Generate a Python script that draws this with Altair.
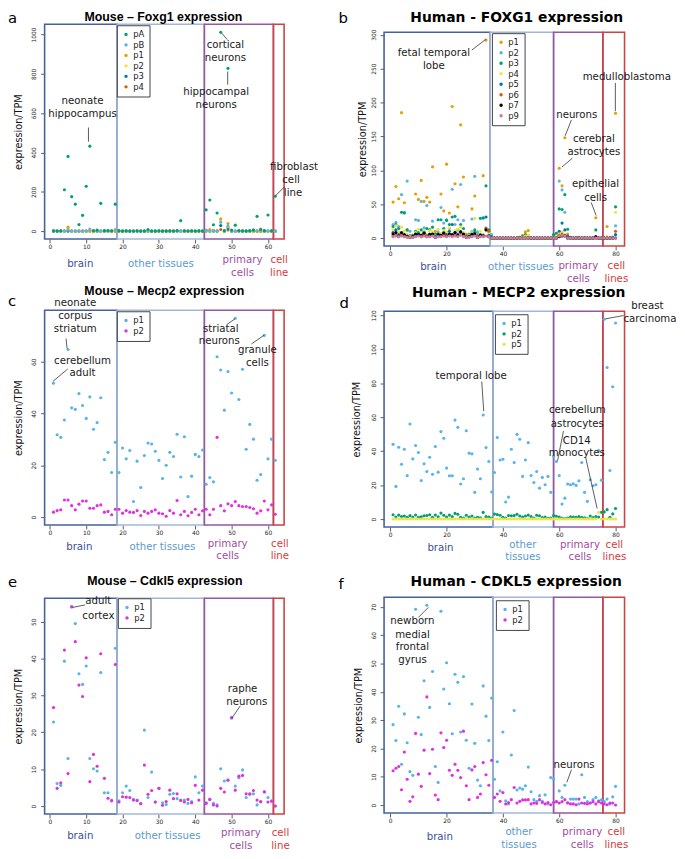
import altair as alt
import pandas as pd

# ------------------------------------------------------------------ data
mouse_idx = list(range(1, 63))
human_idx = list(range(1, 81))

# a  Mouse - Foxg1
foxg1_m_pA = [1, 0, 1, 210, 380, 175, 137, 33, 80, 228,
              432, 2, 5, 141, 2, 3, 1, 137, 2, 0,
              1, 0, 0, 1, 0, 0, 8, 0, 0, 1,
              0, 0, 1, 0, 3, 53, 1, 0, 1, 0,
              1, 0, 108, 158, 32, 92, 1012, 2, 828, 5,
              30, 3, 1, 0, 2, 5, 75, 8, 2, 82,
              1, 177]
foxg1_m_pB = [0, 0, 0, 0, 5, 0, 0, 0, 0, 0,
              10, 0, 0, 0, 0, 0, 0, 8, 0, 0,
              0, 0, 0, 0, 0, 0, 0, 0, 0, 0,
              0, 0, 0, 0, 0, 0, 0, 0, 0, 0,
              0, 0, 5, 0, 0, 0, 45, 0, 25, 0,
              0, 0, 0, 0, 0, 6, 0, 10, 0, 0,
              0, 0]
foxg1_m_p1 = [0, 0, 0, 0, 20, 0, 0, 0, 0, 0,
              3, 0, 0, 0, 0, 0, 0, 0, 0, 0,
              0, 0, 0, 0, 0, 0, 0, 0, 0, 0,
              0, 0, 0, 0, 0, 0, 0, 0, 0, 0,
              0, 0, 3, 8, 0, 0, 62, 0, 38, 0,
              0, 0, 0, 0, 0, 0, 0, 0, 0, 0,
              0, 0]
foxg1_m_p2 = [0, 0, 0, 0, 12, 0, 0, 0, 0, 0,
              0, 0, 0, 0, 0, 0, 0, 0, 0, 0,
              0, 0, 0, 0, 0, 0, 0, 0, 0, 0,
              0, 0, 0, 0, 0, 0, 0, 0, 0, 0,
              0, 0, 0, 0, 0, 0, 52, 0, 22, 0,
              0, 0, 0, 0, 0, 0, 0, 0, 0, 0,
              0, 0]
foxg1_m_p3 = [0, 0, 0, 0, 0, 0, 0, 0, 0, 0,
              0, 0, 0, 0, 0, 0, 0, 0, 0, 0,
              0, 0, 0, 0, 0, 0, 0, 0, 0, 0,
              0, 0, 0, 0, 0, 0, 0, 0, 0, 0,
              0, 0, 0, 0, 2, 0, 28, 0, 15, 0,
              0, 0, 0, 0, 0, 0, 0, 0, 0, 0,
              0, 0]
foxg1_m_p4 = [0, 0, 0, 0, 2, 0, 0, 0, 0, 0,
              0, 0, 0, 0, 0, 0, 0, 0, 0, 0,
              0, 0, 0, 0, 0, 0, 0, 0, 0, 0,
              0, 0, 0, 0, 0, 0, 0, 0, 0, 0,
              0, 0, 0, 0, 0, 0, 8, 0, 6, 0,
              0, 0, 0, 0, 0, 0, 0, 0, 0, 0,
              0, 0]

# b  Human - FOXG1
foxg1_h_p1 = [53, 76, 58, 185, 52, 12, 4, 3, 65, 57,
              85, 54, 60, 53, 105, 10, 4, 65, 40, 109,
              37, 194, 80, 46, 167, 90, 6, 5, 43, 62,
              6, 4, 92, 292, 11, 0, 0, 0, 0, 0,
              0, 0, 0, 0, 0, 1, 4, 9, 11, 0,
              0, 0, 0, 0, 0, 0, 0, 2, 4, 103,
              77, 148, 6, 1, 0, 0, 1, 0, 0, 0,
              0, 1, 30, 0, 0, 0, 17, 0, 1, 184]
foxg1_h_p2 = [20, 23, 17, 64, 38, 84, 10, 4, 27, 26,
              54, 15, 48, 12, 25, 6, 9, 45, 22, 27,
              14, 72, 20, 27, 79, 26, 3, 6, 28, 91,
              9, 4, 29, 15, 3, 5, 0, 0, 0, 0,
              0, 0, 0, 0, 0, 0, 1, 2, 4, 0,
              0, 0, 0, 0, 0, 0, 0, 4, 7, 84,
              71, 38, 3, 1, 0, 1, 0, 0, 1, 0,
              0, 0, 0, 0, 0, 0, 0, 0, 1, 18]
foxg1_h_p3 = [17, 20, 14, 38, 37, 12, 3, 4, 10, 8,
              12, 10, 14, 12, 16, 6, 27, 27, 14, 26,
              20, 31, 32, 12, 20, 14, 3, 5, 9, 12,
              3, 29, 30, 77, 12, 2, 0, 0, 0, 0,
              0, 0, 0, 0, 0, 1, 2, 5, 3, 0,
              0, 0, 0, 0, 0, 0, 0, 5, 7, 43,
              42, 64, 13, 1, 0, 0, 1, 0, 0, 0,
              0, 0, 12, 0, 0, 0, 0, 0, 1, 46]
foxg1_h_p4 = [12, 18, 9, 16, 10, 6, 2, 2, 8, 13,
              6, 10, 5, 11, 9, 3, 13, 7, 11, 9,
              15, 6, 11, 13, 16, 8, 2, 4, 8, 29,
              2, 10, 6, 13, 8, 0, 0, 0, 0, 0,
              0, 0, 0, 0, 0, 0, 1, 3, 4, 0,
              0, 0, 0, 0, 0, 0, 0, 0, 3, 6,
              9, 5, 0, 0, 0, 0, 0, 0, 0, 0,
              0, 0, 0, 0, 0, 0, 2, 0, 0, 38]
foxg1_h_p5 = [8, 12, 5, 6, 4, 3, 1, 2, 5, 6,
              4, 8, 3, 6, 5, 2, 6, 4, 8, 5,
              10, 20, 8, 6, 9, 5, 2, 3, 6, 8,
              2, 5, 4, 31, 4, 0, 0, 0, 0, 0,
              0, 0, 0, 0, 0, 0, 0, 0, 0, 0,
              0, 0, 0, 0, 0, 0, 0, 0, 0, 10,
              22, 12, 3, 0, 0, 0, 0, 0, 0, 0,
              0, 0, 0, 0, 0, 0, 0, 0, 0, 5]
foxg1_h_p6 = [3, 5, 2, 4, 3, 2, 1, 1, 3, 4,
              2, 5, 2, 3, 4, 1, 3, 3, 5, 4,
              6, 4, 5, 3, 8, 4, 1, 2, 3, 4,
              1, 3, 3, 14, 10, 0, 0, 0, 0, 0,
              0, 0, 0, 0, 0, 0, 0, 0, 0, 0,
              0, 0, 0, 0, 0, 0, 0, 0, 0, 4,
              6, 4, 0, 0, 0, 0, 0, 0, 0, 0,
              0, 0, 0, 0, 0, 0, 0, 0, 0, 10]
foxg1_h_p7 = [6, 8, 3, 8, 5, 2, 1, 2, 6, 5,
              4, 7, 3, 5, 6, 1, 5, 4, 7, 3,
              6, 5, 8, 4, 9, 6, 1, 2, 5, 6,
              1, 4, 3, 12, 2, 0, 0, 0, 0, 0,
              0, 0, 0, 0, 0, 0, 0, 0, 0, 0,
              0, 0, 0, 0, 0, 0, 0, 0, 0, 2,
              3, 3, 0, 0, 0, 0, 0, 0, 0, 0,
              0, 0, 2, 0, 0, 0, 0, 0, 0, 0]
foxg1_h_p9 = [2, 3, 2, 3, 2, 1, 1, 1, 2, 3,
              2, 3, 2, 2, 3, 1, 2, 2, 3, 2,
              3, 2, 3, 2, 4, 2, 1, 1, 2, 3,
              1, 2, 2, 3, 2, 0, 0, 0, 0, 0,
              0, 0, 0, 0, 0, 0, 0, 0, 0, 0,
              0, 0, 0, 0, 0, 0, 0, 0, 0, 3,
              4, 3, 0, 0, 0, 0, 0, 0, 0, 0,
              0, 0, 0, 0, 0, 0, 0, 0, 0, 0]

# c  Mouse - Mecp2
mecp2_m_p1 = [51.7, 31.8, 30.8, 37.5, 64.7, 42.2, 41.6, 47.7, 43.1, 38.1,
              46.4, 33.9, 36.5, 46.1, 22.2, 25.0, 17.2, 28.9, 17.2, 26.7,
              22.5, 25.7, 6.0, 21.6, 11.4, 23.8, 28.6, 28.2, 25.4, 21.9,
              14.9, 20.0, 25.0, 23.4, 32.0, 15.5, 31.0, 7.9, 15.8, 24.2,
              23.4, 25.9, 12.7, 15.3, 13.6, 61.9, 56.8, 41.3, 56.2, 47.9,
              76.8, 45.4, 57.1, 26.2, 35.8, 30.1, 14.2, 16.4, 70.2, 22.5,
              30.1, 21.9]
mecp2_m_p2 = [1.9, 2.5, 2.8, 6.6, 6.6, 4.4, 2.8, 5.0, 6.2, 6.2,
              3.4, 3.4, 4.4, 4.7, 1.9, 2.2, 0.9, 3.0, 3.0, 1.5,
              2.5, 1.9, 1.8, 2.5, 0.6, 2.2, 1.5, 2.2, 2.8, 1.5,
              1.3, 0.3, 2.5, 1.5, 6.4, 0.9, 2.2, 0.5, 1.8, 3.0,
              0.9, 2.4, 3.0, 0.9, 3.0, 30.8, 4.4, 2.4, 5.1, 4.4,
              6.0, 4.4, 4.1, 4.1, 3.7, 3.2, 1.5, 2.4, 6.2, 2.8,
              4.7, 1.1]

# d  Human - MECP2
mecp2_h_p1 = [44.0, 19.2, 42.3, 32.3, 41.1, 25.6, 56.0, 35.4, 43.3, 39.2,
              22.7, 32.5, 28.0, 36.4, 26.4, 42.7, 27.6, 51.5, 47.6, 30.0,
              25.5, 25.5, 58.3, 54.0, 20.6, 23.7, 52.0, 38.8, 38.4, 15.7,
              29.4, 23.7, 61.3, 42.1, 33.9, 15.9, 27.4, 48.0, 34.8, 35.2,
              10.0, 12.9, 41.1, 33.3, 49.9, 47.0, 25.1, 34.8, 45.0, 25.6,
              21.5, 28.0, 18.2, 24.5, 20.2, 25.1, 15.7, 37.0, 33.9, 25.6,
              8.8, 12.3, 20.6, 20.2, 20.8, 19.8, 22.5, 33.3, 15.7, 10.4,
              23.1, 19.6, 20.2, 40.3, 22.9, 117.7, 89.3, 28.6, 77.9, 115.5]
mecp2_h_p2 = [2.5, 1.2, 2.3, 1.5, 1.8, 1.0, 2.0, 1.2, 2.4, 1.0,
              1.3, 1.9, 2.1, 2.5, 1.0, 2.4, 1.3, 3.5, 2.2, 1.2,
              2.3, 1.4, 3.3, 2.8, 1.0, 0.6, 2.2, 1.1, 1.8, 0.5,
              1.0, 0.7, 3.9, 1.4, 1.2, 0.6, 2.9, 2.6, 2.2, 1.0,
              0.6, 2.1, 1.9, 2.0, 2.8, 1.8, 1.2, 1.8, 2.3, 1.5,
              0.5, 2.2, 1.9, 0.8, 1.2, 0.4, 0.5, 2.0, 1.6, 1.2,
              0.5, 0.3, 0.6, 1.3, 1.2, 1.0, 1.4, 1.0, 0.7, 0.3,
              1.8, 0.8, 1.5, 1.2, 4.0, 4.2, 5.5, 1.0, 3.0, 6.2]
mecp2_h_p5 = [0, 0, 0, 0, 0, 0, 0, 0, 0, 0,
              0, 0, 0, 0, 0, 0, 0, 0, 0, 0,
              0, 0, 0, 0, 0, 0, 0, 0, 0, 0,
              0, 0, 0, 0, 0, 0, 0, 0, 0, 0,
              0, 0, 0, 0, 0, 0, 0, 0, 0, 0,
              0, 0, 0, 0, 0, 0, 0, 0, 0, 0,
              0, 0, 0, 0, 0, 0, 0, 0, 0, 0,
              0, 0, 0, 3.9, 0, 0, 0, 0, 0, 0]

# e  Mouse - Cdkl5
cdkl5_m_p1 = [22.8, 6.1, 5.6, 39.3, 12.9, 54.2, 49.5, 35.9, 33.0, 38.0,
              12.9, 10.1, 9.5, 36.2, 3.6, 3.6, 1.6, 42.8, 1.4, 3.6,
              5.4, 4.2, 1.8, 1.6, 0.7, 20.6, 2.3, 9.2, 1.1, 4.8,
              0.9, 0.4, 3.2, 3.4, 2.0, 1.6, 1.6, 0.7, 1.2, 7.9,
              3.6, 5.4, 0.9, 1.8, 0.7, 0.3, 10.1, 6.8, 7.1, 23.8,
              5.4, 7.7, 9.8, 2.3, 3.4, 3.3, 0.3, 1.1, 3.9, 2.3,
              1.4, 0.0]
cdkl5_m_p2 = [26.7, 4.8, 6.3, 42.3, 8.8, 54.0, 44.6, 32.8, 29.7, 40.2,
              6.6, 14.0, 10.8, 41.3, 7.5, 2.1, 1.4, 38.4, 1.1, 2.5,
              2.4, 2.3, 1.6, 1.5, 0.6, 11.1, 3.2, 4.2, 1.1, 4.8,
              0.2, 1.2, 4.3, 2.0, 3.3, 1.5, 1.1, 1.8, 0.9, 5.6,
              1.6, 4.3, 0.7, 1.8, 0.3, 0.0, 4.8, 3.8, 7.0, 24.0,
              4.3, 8.1, 8.3, 3.3, 3.2, 4.2, 1.6, 1.2, 3.8, 1.1,
              1.3, 0.0]

# f  Human - CDKL5
cdkl5_h_p1 = [28.4, 22.8, 34.9, 14.4, 32.2, 22.0, 11.8, 10.5, 69.2, 31.0,
              24.9, 43.9, 70.6, 34.5, 47.2, 13.6, 8.0, 68.5, 41.0, 50.3,
              35.8, 25.2, 46.2, 43.4, 25.8, 45.4, 22.9, 13.0, 35.7, 21.8,
              8.8, 6.8, 42.1, 31.4, 22.8, 37.8, 9.1, 15.3, 5.0, 25.8,
              1.5, 0.4, 17.7, 33.4, 5.3, 6.0, 5.6, 6.8, 13.4, 4.7,
              1.9, 1.3, 3.3, 1.3, 3.6, 0.4, 9.7, 9.1, 1.2, 5.0,
              2.7, 7.0, 0.9, 2.1, 2.1, 2.1, 0.4, 10.7, 2.7, 1.2,
              0.7, 1.9, 2.7, 1.5, 1.8, 1.2, 2.1, 0.4, 2.9, 6.6]
cdkl5_h_p2 = [12.1, 13.0, 13.6, 5.4, 18.7, 9.1, 1.3, 2.9, 25.3, 10.9,
              6.6, 19.4, 38.2, 11.1, 19.7, 3.5, 1.9, 25.5, 20.3, 22.9,
              12.3, 10.5, 14.4, 12.3, 9.7, 26.1, 6.8, 1.9, 12.4, 13.6,
              2.7, 3.9, 15.0, 10.7, 7.0, 15.8, 2.7, 3.9, 1.3, 4.4,
              0.4, 0.9, 1.9, 6.2, 0.7, 1.3, 1.8, 1.8, 1.9, 0.4,
              0.7, 0.6, 1.9, 0.9, 0.4, 0.9, 0.1, 0.9, 1.2, 0.7,
              1.2, 1.9, 0.7, 0.4, 0.4, 0.1, 2.1, 0.7, 0.6, 0.4,
              0.7, 1.2, 0.4, 1.2, 0.7, 0.4, 0.1, 0.7, 0.7, 0.0]

# region boundaries (sample index between groups)
mouse_edges = [18.5, 42.5, 61.5]
human_edges_b = [35.5, 58.0, 75.5]
human_edges_df = [36.5, 58.0, 75.5]
mouse_xdom = [-1.44, 64.44]
human_xdom = [-2.2, 83.2]

# ------------------------------------------------------------------ style
FONT = "DejaVu Sans"
ORANGE, SKY, GREEN, YELLOW = "#E69F00", "#56B4E9", "#009E73", "#F0E442"
BLUE, VERM, PINK, BLACK, MAGENTA = "#0072B2", "#D55E00", "#CC79A7", "#000000", "#E02FE0"
REGION_STROKES = ["#46619f", "#a3b6da", "#9457a3", "#cc4444"]
REGION_TEXT = ["#3a4f9a", "#5a9ad0", "#a24c9f", "#d83a3a"]


def build(idx, series, draw_order, xdom, edges, geom, yticks, xticks,
          title, title_font, letter, cats, notes, leaders, legend_xy, ytitle_x):
    left, gtop, off, ph, gh, width = geom
    x0, x1 = xdom
    ymax = max(max(vals) for _, vals, _ in series)
    y0, y1 = -0.04 * ymax, 1.04 * ymax

    def dx(px):
        return x0 + (px - left) / width * (x1 - x0)

    def dy(py):
        return y1 - (py - gtop - off) / ph * (y1 - y0)

    xs = alt.Scale(domain=[x0, x1], nice=False, zero=False)
    ys = alt.Scale(domain=[y0, y1], range=[off + ph, off], nice=False, zero=False)

    xaxis = alt.Axis(values=xticks, tickSize=4, tickColor="#333", tickWidth=0.8,
                     labelFont=FONT, labelFontSize=6, labelColor="#222",
                     labelPadding=1, labelFlush=False, labelOverlap=False,
                     labelAngle=0, domain=False, grid=False, title=None)
    yaxis = alt.Axis(values=yticks, format="d", tickSize=4, tickColor="#333",
                     tickWidth=0.8, labelFont=FONT, labelFontSize=6,
                     labelColor="#222", labelAngle=270, labelAlign="center",
                     labelBaseline="bottom", labelPadding=4, labelFlush=False,
                     labelOverlap=False, domain=False, grid=False,
                     title="expression/TPM", titleFont=FONT, titleFontSize=9.8,
                     titleFontWeight="normal", titleColor="#111", titleAngle=270,
                     titleX=ytitle_x - left, titleY=off + ph / 2,
                     titleAlign="center", titleBaseline="middle")

    def X(f):
        return alt.X(f, scale=xs, axis=xaxis)

    def Y(f):
        return alt.Y(f, scale=ys, axis=yaxis)

    lookup = {lab: vals for lab, vals, _ in series}
    rows = []
    for lab in draw_order:
        for i, v in zip(idx, lookup[lab]):
            rows.append({"idx": i, "val": v, "prom": lab})

    legend = alt.Legend(orient="none", legendX=legend_xy[0] - left,
                        legendY=legend_xy[1] - gtop, title=None,
                        strokeColor="#444", fillColor="white", padding=5,
                        rowPadding=1.6, labelFont=FONT, labelFontSize=8.5,
                        labelColor="#222", labelOffset=3, symbolSize=12,
                        symbolType="circle", symbolStrokeWidth=0, cornerRadius=0)
    pts = alt.Chart(pd.DataFrame(rows)).mark_circle(size=10, opacity=1).encode(
        x=X("idx:Q"), y=Y("val:Q"),
        color=alt.Color("prom:N",
                        scale=alt.Scale(domain=[s[0] for s in series],
                                        range=[s[2] for s in series]),
                        legend=legend),
    )

    reg = pd.DataFrame({"start": [x0] + edges, "end": edges + [x1],
                        "stroke": REGION_STROKES})
    regions = alt.Chart(reg).mark_rect(fillOpacity=0, strokeWidth=1.6).encode(
        x=X("start:Q"), x2="end:Q",
        y=alt.value(off), y2=alt.value(off + ph),
        stroke=alt.Stroke("stroke:N", scale=None),
    )

    ld = pd.DataFrame([{"x": dx(a), "y": dy(b), "x2": dx(c), "y2": dy(d)}
                       for a, b, c, d in leaders])
    lead = alt.Chart(ld).mark_rule(color="#333", strokeWidth=0.8).encode(
        x=X("x:Q"), y=Y("y:Q"), x2="x2:Q", y2="y2:Q")

    nd = pd.DataFrame([{"x": dx(a), "y": dy(b), "t": t} for t, a, b in notes])
    note_layer = alt.Chart(nd).mark_text(
        font=FONT, fontSize=10.3, color="#1a1a1a", align="center",
        baseline="middle").encode(x=X("x:Q"), y=Y("y:Q"), text="t:N")

    cat_layers = []
    for r in range(4):
        cd = pd.DataFrame([{"x": dx(a), "y": dy(b), "t": t}
                           for t, a, b, k in cats if k == r])
        cat_layers.append(alt.Chart(cd).mark_text(
            font=FONT, fontSize=10.3, color=REGION_TEXT[r], align="center",
            baseline="middle").encode(x=X("x:Q"), y=Y("y:Q"), text="t:N"))

    tt, tx, ty, tb = title
    tfont, tsize = title_font
    tlayer = alt.Chart(pd.DataFrame([{"x": dx(tx), "y": dy(ty), "t": tt}])).mark_text(
        font=tfont, fontSize=tsize, fontWeight="bold", color="black",
        align="center", baseline=tb).encode(x=X("x:Q"), y=Y("y:Q"), text="t:N")

    lt, lx, ly, lb = letter
    llayer = alt.Chart(pd.DataFrame([{"x": dx(lx), "y": dy(ly), "t": lt}])).mark_text(
        font=FONT, fontSize=15, color="black", align="left", baseline=lb).encode(
        x=X("x:Q"), y=Y("y:Q"), text="t:N")

    return alt.layer(regions, pts, lead, note_layer, *cat_layers, tlayer,
                     llayer).properties(width=width, height=gh)


MOUSE_T = ("Liberation Sans", 12.5)
HUMAN_T = (FONT, 14)

pa = build(
    mouse_idx,
    [("pA", foxg1_m_pA, GREEN), ("pB", foxg1_m_pB, SKY), ("p1", foxg1_m_p1, ORANGE),
     ("p2", foxg1_m_p2, YELLOW), ("p3", foxg1_m_p3, BLUE), ("p4", foxg1_m_p4, VERM)],
    ["p4", "p3", "p2", "p1", "pB", "pA"],
    mouse_xdom, mouse_edges, (45, 24, 0, 217, 217, 242),
    [0, 200, 400, 600, 800, 1000], [0, 10, 20, 30, 40, 50, 60],
    ("Mouse \u2013 Foxg1 expression", 165, 11, "top"), MOUSE_T,
    ("a", 8, 11, "top"),
    [("brain", 81, 266, 0), ("other tissues", 162.5, 266, 1),
     ("primary", 245, 262, 2), ("cells", 245, 275, 2),
     ("cell", 282, 262, 3), ("line", 282, 275, 3)],
    [("neonate", 83.3, 101.7), ("hippocampus", 83.3, 115),
     ("cortical", 227.7, 45), ("neurons", 227.7, 58.3),
     ("hippocampal", 218.3, 92.7), ("neurons", 218.3, 106),
     ("fibroblast", 297, 168.3), ("cell", 294, 181.7), ("line", 296, 195)],
    [(89.3, 128.3, 89.3, 142.7), (224, 33, 229.5, 39.5),
     (230, 71.7, 230, 85), (278.3, 197.3, 287.3, 188.3)],
    (118, 25), 18.3)

pb = build(
    human_idx,
    [("p1", foxg1_h_p1, ORANGE), ("p2", foxg1_h_p2, SKY), ("p3", foxg1_h_p3, GREEN),
     ("p4", foxg1_h_p4, YELLOW), ("p5", foxg1_h_p5, BLUE), ("p6", foxg1_h_p6, VERM),
     ("p7", foxg1_h_p7, BLACK), ("p9", foxg1_h_p9, PINK)],
    ["p1", "p2", "p3", "p4", "p5", "p6", "p7", "p9"],
    human_xdom, human_edges_b, (388, 24, 8, 216, 224, 243),
    [0, 50, 100, 150, 200, 250, 300], [0, 20, 40, 60, 80],
    ("Human - FOXG1 expression", 522, 11, "top"), HUMAN_T,
    ("b", 342, 11, "top"),
    [("brain", 437.7, 269, 0), ("other", 506.7, 269, 1), ("tissues", 541.7, 269, 1),
     ("primary", 584.3, 268, 2), ("cells", 584.3, 281.7, 2),
     ("cell", 622.7, 268, 3), ("lines", 622.7, 281.7, 3)],
    [("fetal temporal", 438.3, 53.3), ("lobe", 438.3, 66),
     ("medulloblastoma", 633.3, 77.3), ("neurons", 582.7, 116),
     ("cerebral", 600, 140), ("astrocytes", 600, 153.3),
     ("epithelial", 601.7, 185.7), ("cells", 601.7, 199.3)],
    [(476.7, 50, 490.7, 39.3), (621.7, 83.3, 621.7, 111.7),
     (577.3, 120.7, 571, 136.7), (578.3, 159.3, 567.7, 168.3),
     (597.3, 204, 602.3, 217.3)],
    (497, 33), 366.7)

pc = build(
    mouse_idx,
    [("p1", mecp2_m_p1, SKY), ("p2", mecp2_m_p2, MAGENTA)],
    ["p1", "p2"],
    mouse_xdom, mouse_edges, (45, 307, 6, 217, 223, 242),
    [0, 20, 40, 60], [0, 10, 20, 30, 40, 50, 60],
    ("Mouse \u2013 Mecp2 expression", 166, 298, "alphabetic"), MOUSE_T,
    ("c", 8, 309, "alphabetic"),
    [("brain", 80, 552.3, 0), ("other tissues", 164, 552.3, 1),
     ("primary", 230, 549, 2), ("cells", 230, 561, 2),
     ("cell", 282.7, 549, 3), ("line", 282.7, 561, 3)],
    [("neonate", 76, 306), ("corpus", 76, 319), ("striatum", 76, 332.3),
     ("cerebellum", 83.3, 364), ("adult", 83.3, 376.7),
     ("striatal", 223, 331.5), ("neurons", 221.5, 344.5),
     ("granule", 260, 353.5), ("cells", 260, 366)],
    [(66.7, 341.7, 67.7, 351.7), (68.3, 372.3, 53.3, 385),
     (229.3, 327.3, 237.3, 321.7), (254, 347, 266.7, 338.3)],
    (118, 314), 18.3)

pd_ = build(
    human_idx,
    [("p1", mecp2_h_p1, SKY), ("p2", mecp2_h_p2, GREEN), ("p5", mecp2_h_p5, YELLOW)],
    ["p1", "p2", "p5"],
    human_xdom, human_edges_df, (388, 307, 7, 218, 225, 243),
    [0, 20, 40, 60, 80, 100, 120], [0, 20, 40, 60, 80],
    ("Human - MECP2 expression", 524, 300, "alphabetic"), HUMAN_T,
    ("d", 343, 311, "alphabetic"),
    [("brain", 445, 553.3, 0), ("other", 528.3, 550, 1), ("tissues", 528.3, 562.7, 1),
     ("primary", 586, 550.7, 2), ("cells", 586, 562.7, 2),
     ("cell", 620.7, 550, 3), ("lines", 620.7, 562.7, 3)],
    [("breast", 654, 308.3), ("carcinoma", 656.7, 321.7),
     ("temporal lobe", 476, 379.3),
     ("cerebellum", 583.3, 414.3), ("astrocytes", 583.3, 427.7),
     ("CD14", 582.7, 445), ("monocytes", 582.7, 457.7)],
    [(630, 318.3, 611.7, 321.7), (486.7, 385, 488.7, 415),
     (569.3, 435, 563.3, 465), (591.7, 461.7, 603.3, 513.3)],
    (500, 317), 360)

pe = build(
    mouse_idx,
    [("p1", cdkl5_m_p1, SKY), ("p2", cdkl5_m_p2, MAGENTA)],
    ["p1", "p2"],
    mouse_xdom, mouse_edges, (45, 591, 13, 218, 231, 242),
    [0, 10, 20, 30, 40, 50], [0, 10, 20, 30, 40, 50, 60],
    ("Mouse \u2013 Cdkl5 expression", 166.5, 591, "alphabetic"), MOUSE_T,
    ("e", 8, 593, "alphabetic"),
    [("brain", 81, 844, 0), ("other tissues", 169.3, 844, 1),
     ("primary", 243.3, 841.7, 2), ("cells", 243.3, 854, 2),
     ("cell", 283.3, 841.7, 3), ("line", 283.3, 854, 3)],
    [("adult", 99.3, 607.3), ("cortex", 99.3, 621.7),
     ("raphe", 245, 696), ("neurons", 249.3, 709)],
    [(86, 610.7, 73.3, 613.3), (242.7, 712.7, 234.3, 725)],
    (119, 604), 18.3)

pf = build(
    human_idx,
    [("p1", cdkl5_h_p1, SKY), ("p2", cdkl5_h_p2, MAGENTA)],
    ["p1", "p2"],
    human_xdom, human_edges_df, (388, 591, 12, 218, 230, 243),
    [0, 10, 20, 30, 40, 50, 60, 70], [0, 20, 40, 60, 80],
    ("Human - CDKL5 expression", 521.5, 592, "alphabetic"), HUMAN_T,
    ("f", 342, 595, "alphabetic"),
    [("brain", 444.3, 845, 0), ("other", 524.3, 840.7, 1), ("tissues", 524.3, 853.3, 1),
     ("primary", 588.3, 840.7, 2), ("cells", 588.3, 853.3, 2),
     ("cell", 622.7, 840.7, 3), ("lines", 622.7, 853.3, 3)],
    [("newborn", 416.7, 627.3), ("medial", 416.7, 640.7),
     ("frontal", 416.7, 653.3), ("gyrus", 416.7, 666.7),
     ("neurons", 580, 772.3)],
    [(422.7, 623.3, 432.7, 613.3), (577.3, 777.3, 572.7, 790)],
    (501, 606), 361.7)

chart = (alt.concat(pa, pb, pc, pd_, pe, pf, columns=2,
                    spacing={"row": 59, "column": 101},
                    bounds="flush", align="each")
         .resolve_scale(color="independent")
         .properties(padding={"left": 0, "top": -2, "right": 0, "bottom": 0})
         .configure_view(strokeWidth=0))

chart.save("out.html", embed_options={"renderer": "svg", "actions": False})
